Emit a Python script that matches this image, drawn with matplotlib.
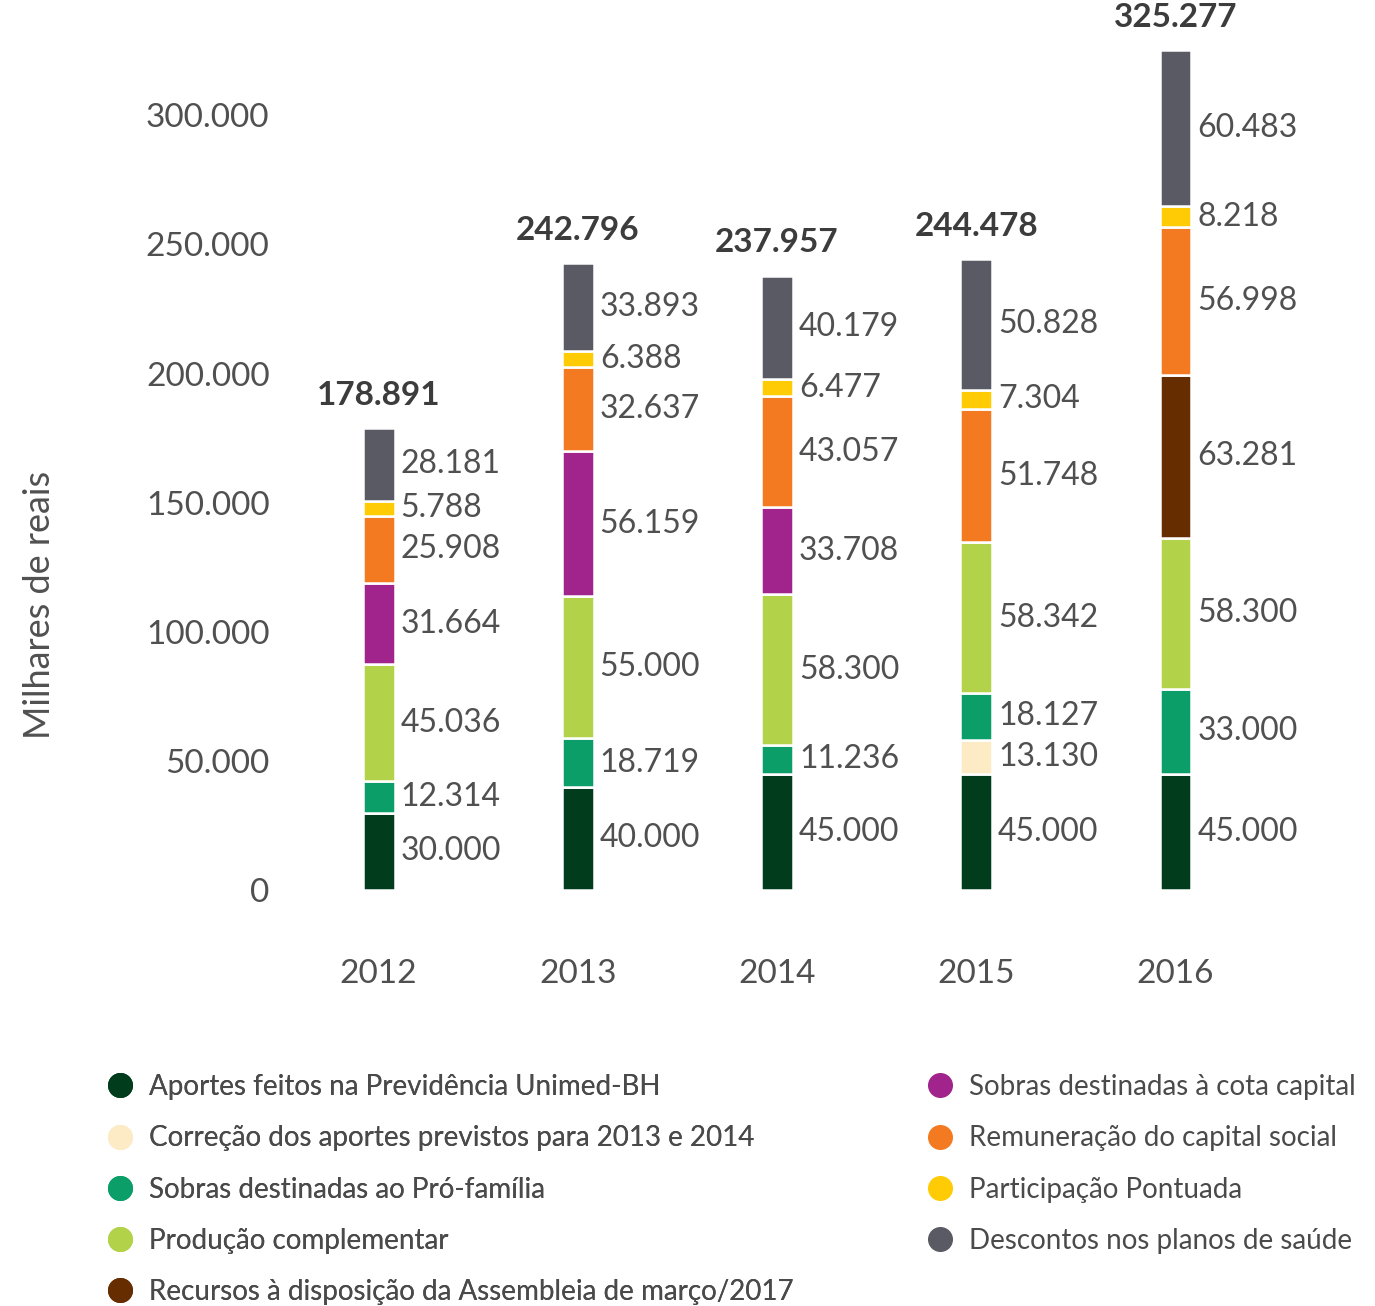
import matplotlib
matplotlib.use("Agg")
import matplotlib.pyplot as plt
from matplotlib.lines import Line2D
import numpy as np

plt.rcParams.update({
    "font.family": ["Lato", "DejaVu Sans"],
    "text.color": "#4a4a4a",
})

YEARS = ["2012", "2013", "2014", "2015", "2016"]

SERIES = [
    "Aportes feitos na Previdência Unimed-BH",
    "Correção dos aportes previstos para 2013 e 2014",
    "Sobras destinadas ao Pró-família",
    "Produção complementar",
    "Recursos à disposição da Assembleia de março/2017",
    "Sobras destinadas à cota capital",
    "Remuneração do capital social",
    "Participação Pontuada",
    "Descontos nos planos de saúde",
]
COLORS = ["#013c1c", "#fdebc6", "#0c9e68", "#b2d349", "#662d00",
          "#a0248c", "#f47a22", "#fecb05", "#5a5a65"]

aportes      = [30000, 40000, 45000, 45000, 45000]
correcao     = [0, 0, 0, 13130, 0]
pro_familia  = [12314, 18719, 11236, 18127, 33000]
producao     = [45036, 55000, 58300, 58342, 58300]
recursos     = [0, 0, 0, 0, 63281]
cota_capital = [31664, 56159, 33708, 0, 0]
remuneracao  = [25908, 32637, 43057, 51748, 56998]
participacao = [5788, 6388, 6477, 7304, 8218]
descontos    = [28181, 33893, 40179, 50828, 60483]

TOTALS = [178891, 242796, 237957, 244478, 325277]

VALUES = [aportes, correcao, pro_familia, producao, recursos,
          cota_capital, remuneracao, participacao, descontos]


def br(v):
    return f"{v:,.0f}".replace(",", ".")


fig = plt.figure(figsize=(13.75, 13.06), dpi=100)
ax = fig.add_axes([289 / 1375, 1 - 890 / 1306, (1295 - 289) / 1375, 878 / 1306])

x = np.arange(len(YEARS))
width = 0.16
bottom = np.zeros(len(YEARS))
for vals, color in zip(VALUES, COLORS):
    vals = np.array(vals, dtype=float)
    ax.bar(x, vals, width, bottom=bottom, color=color,
           edgecolor="white", linewidth=1.8, zorder=3)
    for i, v in enumerate(vals):
        if v > 0:
            ax.text(x[i] + width / 2 + 0.03, bottom[i] + v / 2, br(v),
                    ha="left", va="center", fontsize=23, color="#505050")
    bottom += vals

for i, t in enumerate(TOTALS):
    ax.text(x[i], bottom[i] + 7000, br(t), ha="center", va="bottom",
            fontsize=24, fontweight="bold", color="#3c3c3c")

ax.set_xlim(-0.45, 4.6)
ax.set_ylim(0, 340000)
ax.set_yticks(np.arange(0, 300001, 50000))
ax.set_yticklabels([br(v) for v in np.arange(0, 300001, 50000)])
ax.set_xticks(x)
ax.set_xticklabels(YEARS)
ax.tick_params(axis="both", length=0, labelsize=24, labelcolor="#505050")
ax.tick_params(axis="x", pad=50)
ax.tick_params(axis="y", pad=14)
for s in ax.spines.values():
    s.set_visible(False)

fig.text(40 / 1375, 1 - 605 / 1306, "Milhares de reais", rotation=90,
         ha="center", va="center", fontsize=26, color="#505050")

handles = [Line2D([0], [0], marker="o", linestyle="none", markersize=17,
                  markerfacecolor=c, markeredgecolor=c) for c in COLORS]

leg_kw = dict(frameon=False, fontsize=20, handlelength=0.9,
              handletextpad=0.6, labelspacing=0.91, borderpad=0,
              borderaxespad=0, loc="upper left", labelcolor="#4a4a4a")
leg1 = fig.legend(handles[:5], SERIES[:5],
                  bbox_to_anchor=(107 / 1375, 1 - 1074 / 1306), **leg_kw)
fig.add_artist(leg1)
fig.legend(handles[5:], SERIES[5:],
           bbox_to_anchor=(927 / 1375, 1 - 1074 / 1306), **leg_kw)

fig.savefig("out.png", dpi=100)
